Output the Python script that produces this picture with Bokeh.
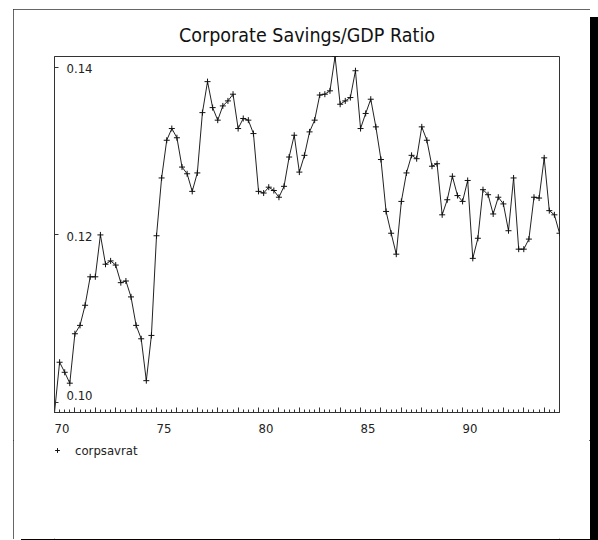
from bokeh.plotting import figure
from bokeh.layouts import column
from bokeh.models import (Range1d, SingleIntervalTicker, FixedTicker, CustomJSTickFormatter,
                          Legend, LegendItem, ColumnDataSource)
from bokeh.core.properties import value
from bokeh.embed import file_html
from bokeh.resources import INLINE

# Corporate savings as a share of GDP, quarterly from 1970Q1
title_text = "Corporate Savings/GDP Ratio"
series_name = "corpsavrat"
start_year = 1970
periods_per_year = 4

corpsavrat = [
    0.0988, 0.1048, 0.1036, 0.1023, 0.1082, 0.1092, 0.1116, 0.1150, 0.1150, 0.1200,
    0.1165, 0.1169, 0.1164, 0.1143, 0.1145, 0.1126, 0.1092, 0.1076, 0.1026, 0.1080,
    0.1199, 0.1268, 0.1313, 0.1327, 0.1316, 0.1281, 0.1273, 0.1252, 0.1274, 0.1346,
    0.1383, 0.1352, 0.1337, 0.1354, 0.1360, 0.1368, 0.1327, 0.1339, 0.1337, 0.1321,
    0.1252, 0.1250, 0.1257, 0.1253, 0.1245, 0.1258, 0.1293, 0.1319, 0.1275, 0.1295,
    0.1323, 0.1337, 0.1367, 0.1368, 0.1372, 0.1413, 0.1356, 0.1360, 0.1364, 0.1396,
    0.1327, 0.1345, 0.1362, 0.1329, 0.1290, 0.1228, 0.1202, 0.1177, 0.1240, 0.1274,
    0.1295, 0.1291, 0.1329, 0.1313, 0.1282, 0.1285, 0.1224, 0.1242, 0.1270, 0.1247,
    0.1240, 0.1265, 0.1172, 0.1196, 0.1254, 0.1248, 0.1225, 0.1245, 0.1237, 0.1205,
    0.1268, 0.1183, 0.1183, 0.1195, 0.1245, 0.1244, 0.1292, 0.1229, 0.1224, 0.1202,
]

y_ticks = [0.10, 0.12, 0.14]
y_tick_labels = ["0.10", "0.12", "0.14"]
x_label_every = 5

FONT = "DejaVu Sans Condensed"
INK = "#222222"
PAGE_W = 577

quarters = [start_year + i / periods_per_year for i in range(len(corpsavrat))]
series = ColumnDataSource(dict(quarter=quarters, ratio=corpsavrat))

p = figure(
    width=PAGE_W, height=431,
    output_backend="svg", toolbar_location=None,
    x_range=Range1d(quarters[0], quarters[-1]),
    y_range=Range1d(min(corpsavrat), max(corpsavrat)),
    min_border_left=41, min_border_right=31, min_border_top=47, min_border_bottom=28,
    background_fill_color="white", border_fill_color="white",
)

# title
p.title.text = title_text
p.title.align = "center"
p.title.text_font = FONT
p.title.text_font_size = "19.5px"
p.title.text_font_style = "normal"
p.title.text_color = "#111111"
p.title.standoff = 20

p.outline_line_color = "#333333"
p.outline_line_width = 1
p.xgrid.visible = False
p.ygrid.visible = False

# x axis: yearly ticks, quarterly minor ticks, a label every five years
# (labels start at their tick, so they are padded on the left with figure spaces)
xa = p.xaxis[0]
xa.ticker = SingleIntervalTicker(interval=1, num_minor_ticks=periods_per_year)
xa.formatter = CustomJSTickFormatter(
    args=dict(every=x_label_every),
    code="""
const t = Math.round(tick);
if (t % every !== 0) return '';
const s = String(t % 100);
return '\\u2007'.repeat(s.length) + s;
""")
xa.major_tick_in = 5
xa.major_tick_out = 0
xa.minor_tick_in = 3
xa.minor_tick_out = 0
xa.major_label_standoff = 8
xa.major_label_text_font = FONT
xa.major_label_text_font_size = "13px"
xa.major_label_text_color = "#222222"
xa.axis_line_color = "#333333"
xa.major_tick_line_color = "#333333"
xa.minor_tick_line_color = "#333333"

# y axis: inward ticks only, labels are drawn inside the frame
ya = p.yaxis[0]
ya.ticker = FixedTicker(ticks=y_ticks, minor_ticks=[])
ya.formatter = CustomJSTickFormatter(code="return '';")
ya.major_tick_in = 4
ya.major_tick_out = 0
ya.axis_line_color = "#333333"
ya.major_tick_line_color = "#333333"

label_src = ColumnDataSource(dict(
    x=[quarters[0]] * len(y_ticks), y=y_ticks, text=y_tick_labels, dy=[-7, 2, 1],
))
p.text(x="x", y="y", text="text", source=label_src, x_offset=12, y_offset="dy",
       text_font=value(FONT), text_font_size="13px", text_color="#222222",
       text_align="left", text_baseline="middle")

# the series
p.line("quarter", "ratio", source=series, line_color=INK, line_width=1)
p.scatter("quarter", "ratio", source=series, marker="cross", size=6,
          line_color="#111111", line_width=1)

# key strip under the chart (its own ranges keep the series out of view,
# only the legend entry is shown)
key = figure(
    width=PAGE_W, height=99,
    output_backend="svg", toolbar_location=None,
    x_range=Range1d(0, 1), y_range=Range1d(0, 1),
    x_axis_location=None, y_axis_location=None,
    min_border_left=41, min_border_right=31, min_border_top=0, min_border_bottom=0,
    outline_line_color=None,
    background_fill_color="white", border_fill_color="white",
)
key.xgrid.visible = False
key.ygrid.visible = False
key_marks = key.scatter("quarter", "ratio", source=series, marker="cross", size=6,
                        line_color="#111111", line_width=1)
legend = Legend(
    items=[LegendItem(label=series_name, renderers=[key_marks])],
    location=(-3, 81), orientation="vertical",
    margin=0, padding=0, spacing=0,
    glyph_width=12, glyph_height=16, label_height=16, label_standoff=12,
    border_line_alpha=0, background_fill_alpha=0,
    label_text_font=FONT, label_text_font_size="13px", label_text_color="#222222",
)
key.add_layout(legend)

# page frame with a hard drop shadow
page = column(p, key, spacing=0)
page.margin = (9, 0, 0, 13)
page.styles = {
    "outline": "1.5px solid #333333",
    "outline-offset": "-1.5px",
    "box-shadow": "8px 8px 0px 0px #000000",
}

open("out.html", "w").write(file_html(page, INLINE))
